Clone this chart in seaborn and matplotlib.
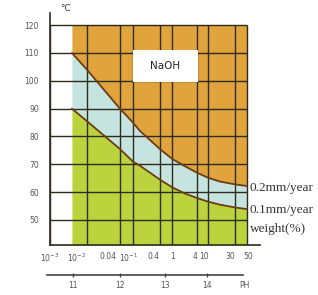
import numpy as np
import pandas as pd
import seaborn as sns
import matplotlib.pyplot as plt
from matplotlib.patches import Rectangle

# weight (%) scale: labels, where the gridlines sit on the (non uniform) axis,
# and where the printed labels sit (they are shifted a bit in the original)
weight_labels = ['10$^{-3}$', '10$^{-2}$', '0.04', '10$^{-1}$', '0.4', '1', '4', '10', '30', '50']
weight_pos = [0, 3.7, 7.0, 8.3, 11.0, 12.2, 14.7, 15.8, 18.5, 19.7]
label_pos = [0, 2.7, 5.8, 7.9, 10.4, 12.3, 14.5, 15.4, 18.0, 19.8]

# pH scale under the weight scale
ph_labels = ['11', '12', '13', '14', 'PH']
ph_pos = [2.3, 7.0, 11.5, 15.7, 19.5]

temp_ticks = [50, 60, 70, 80, 90, 100, 110, 120]

# iso-corrosion curves, temperature (degC) read at axis positions
curve_x = [2.2, 3.7, 7.0, 8.3, 9.0, 11.0, 12.2, 13.5, 14.7, 15.8, 17.0, 18.5, 19.7]
rate_02 = [110, 104, 90, 85, 82, 75.5, 72, 69.3, 67, 65.2, 63.8, 62.8, 62.2]   # 0.2 mm/year
rate_01 = [90, 85.5, 75.5, 71, 69.5, 64.5, 61.8, 59.5, 57.9, 56.6, 55.5, 54.5, 53.9]  # 0.1 mm/year

df = pd.DataFrame({'x': curve_x, '0.2mm/year': rate_02, '0.1mm/year': rate_01})

sns.set_style("white")
plt.rcParams['font.family'] = ['DejaVu Sans']

fig = plt.figure(figsize=(3.18, 2.95), dpi=100)
ax = fig.add_axes([0.157, 0.1695, 0.660, 0.786])

ymin, ytop = 41, 120
orange = '#E1A43C'
blue = '#C6E4DF'
green = '#BBD43E'
grid_c = '#2E2A1E'
curve_c = '#6B3C14'

# colour zones
ax.fill_between(df['x'], ymin, df['0.1mm/year'], color=green, lw=0, zorder=1)
ax.fill_between(df['x'], df['0.1mm/year'], df['0.2mm/year'], color=blue, lw=0, zorder=1)
ax.fill_between(df['x'], df['0.2mm/year'], ytop, color=orange, lw=0, zorder=1)

# grid
ax.hlines(temp_ticks, 0, weight_pos[-1], color=grid_c, lw=1.0, zorder=2)
ax.vlines(weight_pos, ymin, ytop, color=grid_c, lw=1.0, zorder=2)

# curves
sns.lineplot(data=df, x='x', y='0.2mm/year', ax=ax, color=curve_c, lw=1.3, zorder=3)
sns.lineplot(data=df, x='x', y='0.1mm/year', ax=ax, color=curve_c, lw=1.3, zorder=3)

# NaOH label box
ax.add_patch(Rectangle((8.3, 99.6), 6.5, 11.4, facecolor='white', edgecolor='none', zorder=4))
ax.text(11.55, 105.3, 'NaOH', ha='center', va='center', fontsize=7.5, color='#222222', zorder=5)

# curve labels at right
serif = ['Liberation Serif', 'DejaVu Serif']
ax.text(20.0, 61.5, '0.2mm/year', fontsize=9.5, family=serif, color='#333333', va='center', clip_on=False)
ax.text(20.0, 53.6, '0.1mm/year', fontsize=9.5, family=serif, color='#333333', va='center', clip_on=False)
ax.text(20.0, 46.8, 'weight(%)', fontsize=9.5, family=serif, color='#333333', va='center', clip_on=False)
ax.text(1.0, 125.8, '°C', fontsize=6.5, color='#333333', va='center', clip_on=False)

ax.set_xlim(0, 21.0)
ax.set_ylim(ymin, 124.3)
ax.set_xticks(label_pos)
ax.set_xticklabels(weight_labels)
ax.set_yticks(temp_ticks)
ax.tick_params(axis='x', length=0, pad=5, labelsize=5.5, labelcolor='#555555')
ax.tick_params(axis='y', length=0, pad=8, labelsize=5.5, labelcolor='#555555')
ax.set_xlabel('')
ax.set_ylabel('')

for s in ['top', 'right']:
    ax.spines[s].set_visible(False)
for s in ['left', 'bottom']:
    ax.spines[s].set_color(grid_c)
    ax.spines[s].set_linewidth(1.2)

# pH axis
sec = ax.secondary_xaxis(-0.13)
sec.set_xticks(ph_pos)
sec.set_xticklabels(ph_labels)
sec.spines['bottom'].set_bounds(-0.3, 19.3)
sec.spines['bottom'].set_color('#444444')
sec.spines['bottom'].set_linewidth(1.2)
sec.tick_params(axis='x', length=2.5, width=1, direction='inout', pad=3,
                labelsize=5.5, labelcolor='#555555', color='#444444')
sec.xaxis.get_major_ticks()[-1].tick1line.set_visible(False)

fig.savefig('out.png', dpi=100)
